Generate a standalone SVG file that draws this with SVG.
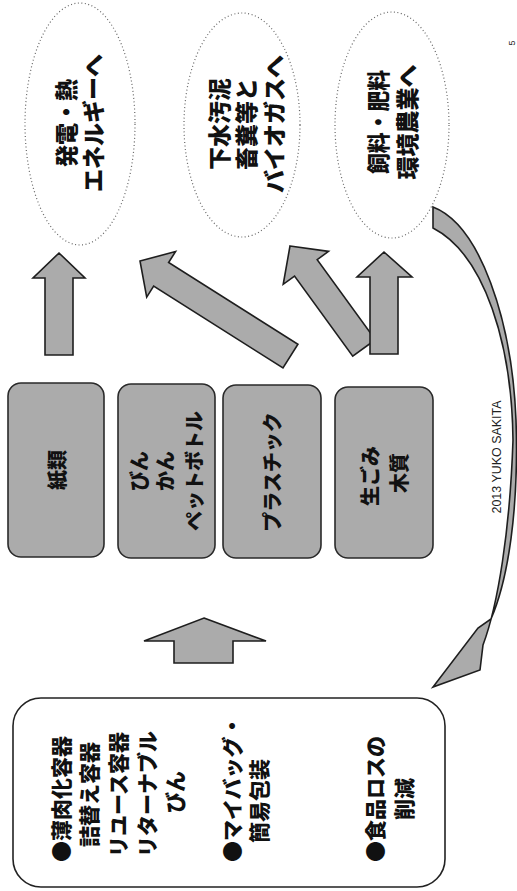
<svg xmlns="http://www.w3.org/2000/svg" width="517" height="891" viewBox="0 0 517 891">
<style>
.bg{fill:#ffffff}
.ell{fill:#ffffff;stroke:#666;stroke-width:1.2;stroke-dasharray:1 2.5}
.box{fill:#ababab;stroke:#2a2a2a;stroke-width:1.6}
.panel{fill:#ffffff;stroke:#222;stroke-width:1.6}
.arr{fill:#ababab;stroke:#1e1e1e;stroke-width:1.6;stroke-linejoin:miter}
.t{font-family:"Noto Sans CJK JP","Noto Sans CJK SC",sans-serif;font-weight:900;fill:#111;dominant-baseline:central}
.c{text-anchor:middle}
.s{text-anchor:start}
.e23{font-size:23px}
.b20{font-size:20px}
.p21{font-size:21px}
.small{font-family:"Liberation Sans",Arial,sans-serif;fill:#222;dominant-baseline:central}
</style>
<rect class="bg" x="0" y="0" width="517" height="891"/>

<g id="ellipse-energy">
  <ellipse class="ell" cx="80" cy="124" rx="55" ry="121"/>
  <text class="t c e23" transform="translate(65,123) rotate(-90)" textLength="88" lengthAdjust="spacingAndGlyphs">発電・熱</text>
  <text class="t c e23" transform="translate(92,123) rotate(-90)">エネルギーへ</text>
</g>
<g id="ellipse-biogas">
  <ellipse class="ell" cx="242" cy="125" rx="58" ry="112"/>
  <text class="t c e23" transform="translate(218,124) rotate(-90)">下水汚泥</text>
  <text class="t c e23" transform="translate(245,124) rotate(-90)">畜糞等と</text>
  <text class="t c e23" transform="translate(273,124) rotate(-90)">バイオガスへ</text>
</g>
<g id="ellipse-feed">
  <ellipse class="ell" cx="392" cy="125" rx="57" ry="113"/>
  <text class="t c e23" transform="translate(377,122) rotate(-90)" textLength="104" lengthAdjust="spacingAndGlyphs">飼料・肥料</text>
  <text class="t c e23" transform="translate(406,122) rotate(-90)">環境農業へ</text>
</g>

<g id="box-paper">
  <rect class="box" x="8" y="383" width="96" height="174" rx="13"/>
  <text class="t c b20" transform="translate(56,470) rotate(-90)">紙類</text>
</g>
<g id="box-bottles">
  <rect class="box" x="118" y="384" width="97" height="174" rx="13"/>
  <text class="t c b20" transform="translate(138,471) rotate(-90)">びん</text>
  <text class="t c b20" transform="translate(164,471) rotate(-90)">かん</text>
  <text class="t c b20" transform="translate(193,471) rotate(-90)">ペットボトル</text>
</g>
<g id="box-plastic">
  <rect class="box" x="223" y="385" width="98" height="173" rx="13"/>
  <text class="t c b20" transform="translate(271,472) rotate(-90)">プラスチック</text>
</g>
<g id="box-organic">
  <rect class="box" x="335" y="387" width="98" height="171" rx="13"/>
  <text class="t c b20" transform="translate(369,476) rotate(-90)">生ごみ</text>
  <text class="t c b20" transform="translate(398,473) rotate(-90)">木質</text>
</g>

<g id="panel-reduce">
  <rect class="panel" x="13" y="698" width="432" height="189" rx="28"/>
  <text class="t s p21" transform="translate(60,862) rotate(-90)">●薄肉化容器</text>
  <text class="t s p21" transform="translate(88,847) rotate(-90)">詰替え容器</text>
  <text class="t s p21" transform="translate(117,857) rotate(-90)">リユース容器</text>
  <text class="t s p21" transform="translate(146,857) rotate(-90)">リターナブル</text>
  <text class="t s p21" transform="translate(174,813) rotate(-90)">びん</text>
  <text class="t s p21" transform="translate(231,862) rotate(-90)">●マイバッグ・</text>
  <text class="t s p21" transform="translate(258,843) rotate(-90)">簡易包装</text>
  <text class="t s p21" transform="translate(374,862) rotate(-90)">●食品ロスの</text>
  <text class="t s p21" transform="translate(403,820) rotate(-90)">削減</text>
</g>

<g id="connectors">
  <polygon class="arr" points="59,253 85,278 73,278 73,355 45,355 45,278 33,278"/>
  <polygon class="arr" transform="translate(140,261) rotate(-57.7)" points="0,0 27,25 14,25 14,178 -14,178 -14,25 -27,25"/>
  <polygon class="arr" transform="translate(290,246) rotate(-36)" points="0,0 28,27 14,27 14,126 -14,126 -14,27 -28,27"/>
  <polygon class="arr" points="384,252 412,277 398,277 398,354 370,354 370,277 357,277"/>
  <polygon class="arr" points="204,618 266,641 233,641 233,663 174,663 174,641 144,641"/>
  <path class="arr" d="M433,207 C480,225 512,320 516,420 C519,510 508,580 491,619 L478,628 L433,687 L480,670 L483,645 C498,605 510,530 513,440 C512,345 485,255 433,228 Z"/>
</g>

<text class="small" font-size="12" text-anchor="middle" transform="translate(497,457) rotate(-90)" textLength="113" lengthAdjust="spacingAndGlyphs">2013  YUKO SAKITA</text>
<text class="small" font-size="9" text-anchor="middle" transform="translate(512,43) rotate(-90)">5</text>
</svg>
